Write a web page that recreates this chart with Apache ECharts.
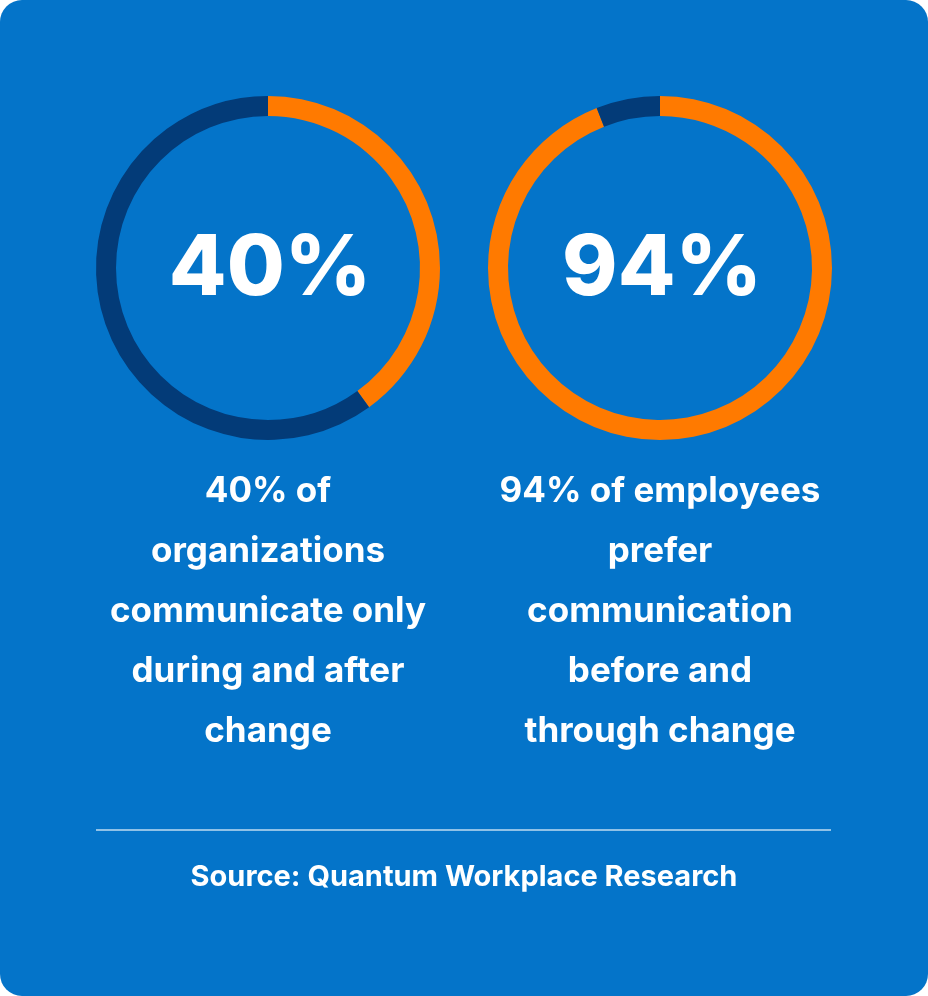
<!DOCTYPE html>
<html><head><meta charset="utf-8">
<script src="https://cdn.jsdelivr.net/npm/echarts@6/dist/echarts.min.js"></script>
<style>
html,body{margin:0;padding:0;background:#fff;}
#c{width:928px;height:996px;background:#0474C9;border-radius:22px;overflow:hidden;}
</style></head><body>
<div id="c"></div>
<script>
const stats = [40, 94];
const centerLabels = ['40%', '94%'];
const captions = [
  ['40% of','organizations','communicate only','during and after','change'],
  ['94% of employees','prefer','communication','before and','through change']
];
const source = 'Source: Quantum Workplace Research';
const ORANGE = '#FF7A00', NAVY = '#033B78';
const centersX = [268, 660];
const chart = echarts.init(document.getElementById('c'), null, {renderer:'canvas'});
const series = stats.map((v,i)=>({
  type:'pie', center:[centersX[i],268], radius:[152,172], startAngle:90, clockwise:true,
  silent:true, label:{show:false}, labelLine:{show:false},
  data:[{value:v,itemStyle:{color:ORANGE}},{value:100-v,itemStyle:{color:NAVY}}]
}));
const graphic = [];
centerLabels.forEach((t,i)=>graphic.push({type:'text',x:centersX[i]+2,y:270,style:{text:t,fill:'#fff',font:'800 84px Inter',align:'center',verticalAlign:'middle'}}));
captions.forEach((lines,i)=>lines.forEach((l,j)=>graphic.push({type:'text',x:centersX[i],y:491+j*60,style:{text:l,fill:'#fff',font:'700 35px Inter',align:'center',verticalAlign:'middle'}})));
graphic.push({type:'line',shape:{x1:96,y1:830,x2:831,y2:830},style:{stroke:'rgba(255,255,255,0.75)',lineWidth:1.5}});
graphic.push({type:'text',x:464,y:877,style:{text:source,fill:'#fff',font:'700 29px Inter',align:'center',verticalAlign:'middle'}});
chart.setOption({backgroundColor:'transparent',animation:false,series,graphic});
</script></body></html>
